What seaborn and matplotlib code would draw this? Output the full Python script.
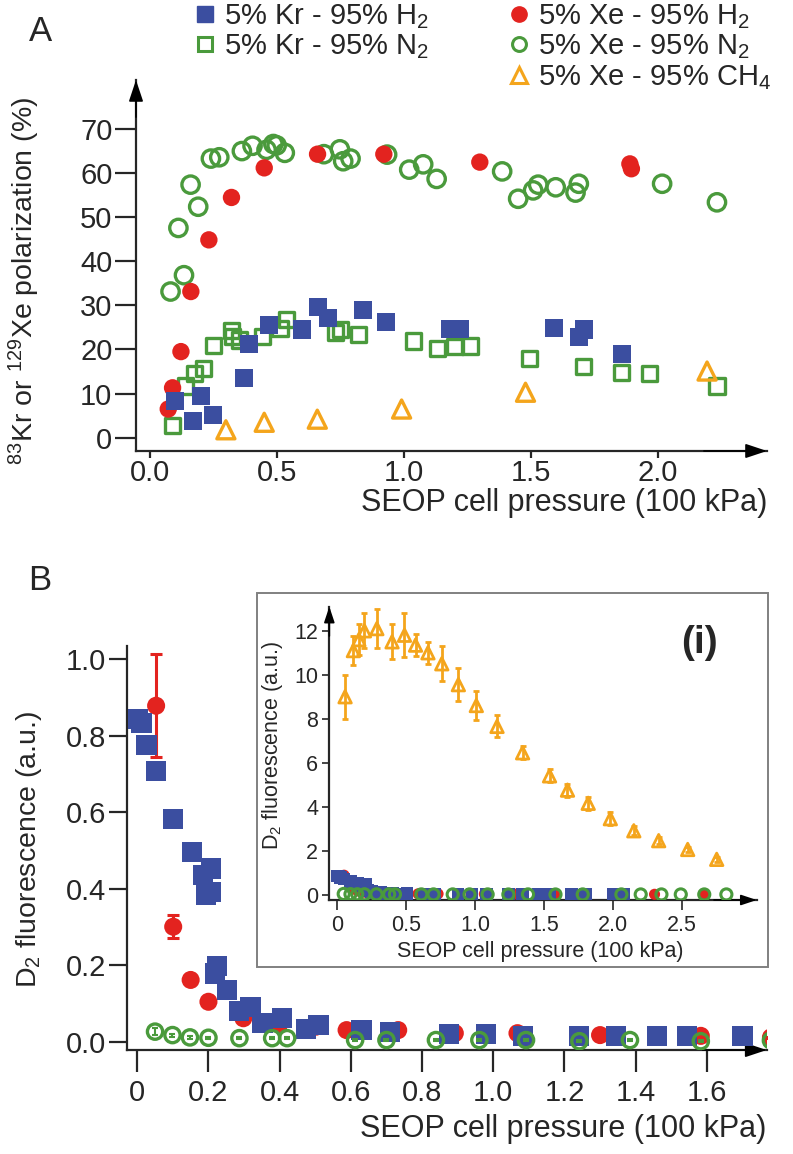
import matplotlib
matplotlib.use("Agg")
import matplotlib.pyplot as plt
from matplotlib.patches import Rectangle
import seaborn as sns
import pandas as pd

# panel A: polarization vs pressure
krh2_p = [0.10, 0.17, 0.20, 0.25, 0.37, 0.39, 0.47, 0.60, 0.66, 0.70, 0.84, 0.93, 1.18, 1.22, 1.59, 1.69, 1.71, 1.86]
krh2_v = [8.3, 3.7, 9.5, 5.2, 13.6, 21.3, 25.5, 24.5, 29.5, 27.2, 28.9, 26.2, 24.7, 24.7, 24.9, 22.9, 24.5, 19.0]

krn2_p = [0.09, 0.14, 0.175, 0.21, 0.25, 0.32, 0.325, 0.354, 0.444, 0.512, 0.538, 0.732, 0.751, 0.82,
          1.039, 1.131, 1.201, 1.26, 1.496, 1.706, 1.857, 1.966, 2.233]
krn2_v = [2.7, 11.7, 14.5, 15.6, 20.9, 24.3, 23.0, 22.1, 22.9, 24.7, 26.7, 23.8, 24.5, 23.4,
          21.9, 20.2, 20.6, 20.8, 17.9, 16.2, 14.8, 14.5, 11.7]

xeh2_p = [0.072, 0.089, 0.122, 0.161, 0.232, 0.321, 0.45, 0.66, 0.921, 1.299, 1.89, 1.896]
xeh2_v = [6.5, 11.3, 19.5, 33.1, 44.8, 54.4, 61.1, 64.2, 64.2, 62.4, 62.0, 60.9]

xen2_p = [0.081, 0.134, 0.112, 0.19, 0.16, 0.24, 0.273, 0.362, 0.404, 0.459, 0.486, 0.499, 0.531, 0.685, 0.748,
          0.761, 0.79, 0.934, 1.021, 1.076, 1.129, 1.387, 1.45, 1.509, 1.529, 1.598, 1.676, 1.689, 2.017, 2.233]
xen2_v = [33.1, 36.8, 47.5, 52.3, 57.3, 63.2, 63.5, 64.9, 66.1, 65.2, 66.5, 66.2, 64.5, 64.2, 65.3,
          62.6, 63.2, 64.1, 60.7, 61.9, 58.6, 60.3, 54.1, 56.0, 57.3, 56.7, 55.5, 57.5, 57.5, 53.3]

xech4_p = [0.299, 0.45, 0.659, 0.991, 1.479, 2.194]
xech4_v = [1.8, 3.5, 4.2, 6.5, 10.3, 15.1]

# panel B: D2 fluorescence vs pressure
b_krh2_p = [0.001, 0.012, 0.026, 0.052, 0.101, 0.153, 0.185, 0.206, 0.193, 0.206, 0.218, 0.225, 0.253, 0.287,
            0.318, 0.352, 0.407, 0.474, 0.509, 0.63, 0.71, 0.876, 0.979, 1.084, 1.242, 1.345, 1.459, 1.543,
            1.70, 1.80, 2.00, 2.08]
b_krh2_v = [0.843, 0.832, 0.775, 0.708, 0.582, 0.497, 0.436, 0.453, 0.384, 0.392, 0.179, 0.199, 0.136, 0.082,
            0.091, 0.050, 0.062, 0.033, 0.044, 0.031, 0.027, 0.020, 0.020, 0.016, 0.016, 0.016, 0.016, 0.016,
            0.015, 0.015, 0.014, 0.014]

b_xeh2_p = [0.053, 0.101, 0.15, 0.2, 0.298, 0.399, 0.502, 0.588, 0.733, 0.892, 1.068, 1.3, 1.583, 1.78, 2.03, 2.30, 2.66]
b_xeh2_v = [0.878, 0.301, 0.162, 0.105, 0.062, 0.047, 0.040, 0.031, 0.031, 0.023, 0.023, 0.018, 0.016, 0.012, 0.012, 0.010, 0.010]
b_xeh2_e = [0.134, 0.03, 0.004, 0.004, 0.003, 0.003, 0.003, 0.002, 0.002, 0.002, 0.002, 0.002, 0.002, 0.002, 0.002, 0.002, 0.002]

b_xen2_p = [0.05, 0.099, 0.148, 0.2, 0.287, 0.379, 0.421, 0.612, 0.7, 0.839, 0.961, 1.092, 1.242, 1.384, 1.583,
            1.78, 2.06, 2.20, 2.35, 2.49, 2.66, 2.82]
b_xen2_v = [0.027, 0.018, 0.012, 0.011, 0.010, 0.010, 0.010, 0.005, 0.005, 0.005, 0.005, 0.005, 0.002, 0.005, 0.002,
            0.004, 0.004, 0.004, 0.004, 0.004, 0.004, 0.004]
b_xen2_e = [0.009, 0.004, 0.003, 0.003, 0.003, 0.003, 0.003, 0.003, 0.003, 0.003, 0.003, 0.003, 0.003, 0.003, 0.003,
            0.003, 0.003, 0.003, 0.003, 0.003, 0.003, 0.003]

# inset: Xe - CH4
ch4_p = [0.06, 0.12, 0.16, 0.20, 0.29, 0.40, 0.49, 0.57, 0.66, 0.76, 0.88, 1.01, 1.16, 1.345, 1.54, 1.67,
         1.82, 1.98, 2.15, 2.33, 2.54, 2.75]
ch4_v = [9.0, 11.1, 11.6, 12.0, 12.1, 11.5, 11.8, 11.35, 11.0, 10.5, 9.55, 8.6, 7.65, 6.45, 5.4, 4.75,
         4.15, 3.45, 2.9, 2.45, 2.05, 1.6]
ch4_e = [1.0, 0.65, 0.7, 0.8, 0.9, 0.8, 1.0, 0.5, 0.5, 0.8, 0.75, 0.65, 0.5, 0.3, 0.3, 0.3,
         0.3, 0.3, 0.2, 0.15, 0.1, 0.1]

BLUE = "#3b4ea0"
RED = "#e3231f"
GREEN = "#4a9a3c"
ORANGE = "#f4a51c"
FS = 21

sns.set_style("ticks")
plt.rcParams["font.family"] = ["Liberation Sans", "DejaVu Sans"]
plt.rcParams["mathtext.fontset"] = "custom"
plt.rcParams["mathtext.rm"] = "Liberation Sans"
plt.rcParams["mathtext.it"] = "Liberation Sans:italic"
plt.rcParams["axes.linewidth"] = 1.6


def scatter(ax, x, y, color, marker, size, filled=True, lw=2.4, z=2):
    df = pd.DataFrame({"x": x, "y": y})
    if filled:
        sns.scatterplot(data=df, x="x", y="y", ax=ax, marker=marker, s=size ** 2, color=color,
                        edgecolor="none", linewidth=0, zorder=z, legend=False)
    else:
        sns.scatterplot(data=df, x="x", y="y", ax=ax, marker=marker, s=size ** 2, facecolor="none",
                        edgecolor=color, linewidth=lw, zorder=z, legend=False)


def errbars(ax, x, y, e, color, lw, cap, z):
    ax.errorbar(x, y, yerr=e, fmt="none", ecolor=color, elinewidth=lw, capsize=cap, capthick=lw, zorder=z)


def arrows(ax, top=True, scale=22):
    style = "-|>,head_length=0.6,head_width=0.2"
    ax.annotate("", xy=(1, 0), xytext=(0.9, 0), xycoords="axes fraction",
                arrowprops=dict(arrowstyle=style, color="k", lw=1.2, mutation_scale=scale,
                                shrinkA=0, shrinkB=0))
    if top:
        ax.annotate("", xy=(0, 1), xytext=(0, 0.9), xycoords="axes fraction",
                    arrowprops=dict(arrowstyle=style, color="k", lw=1.2, mutation_scale=scale,
                                    shrinkA=0, shrinkB=0))


def clean(ax):
    sns.despine(ax=ax)
    ax.set_xlabel("")
    ax.set_ylabel("")


fig = plt.figure(figsize=(7.93, 11.54), dpi=100)

# ---- panel A
axA = fig.add_axes([0.1715, 0.6092, 0.7957, 0.3215])
scatter(axA, krn2_p, krn2_v, GREEN, "s", 11, filled=False, z=2)
scatter(axA, xen2_p, xen2_v, GREEN, "o", 12.5, filled=False, z=3)
scatter(axA, xeh2_p, xeh2_v, RED, "o", 12.5, z=4)
scatter(axA, krh2_p, krh2_v, BLUE, "s", 13, z=5)
scatter(axA, xech4_p, xech4_v, ORANGE, "^", 13, filled=False, z=6)
clean(axA)
axA.set_xlim(-0.055, 2.43)
axA.set_ylim(-3, 81)
axA.set_xticks([0, 0.5, 1.0, 1.5, 2.0])
axA.set_xticklabels(["0.0", "0.5", "1.0", "1.5", "2.0"])
axA.set_yticks(range(0, 71, 10))
axA.tick_params(axis="both", labelsize=FS, width=1.6)
axA.tick_params(axis="y", length=15, pad=2)
axA.tick_params(axis="x", length=5, pad=1)
arrows(axA)
axA.set_xlabel("SEOP cell pressure (100 kPa)", fontsize=22)
axA.xaxis.set_label_coords(1.0, -0.1)
axA.xaxis.label.set_ha("right")
axA.set_ylabel("$^{83}$Kr or $^{129}$Xe polarization (%)", fontsize=20.5)
axA.yaxis.set_label_coords(-0.149, 0.458)

# legend for A
h_krh2 = plt.Line2D([], [], marker="s", color=BLUE, ls="", ms=11)
h_krn2 = plt.Line2D([], [], marker="s", mfc="none", mec=GREEN, mew=2.2, ls="", ms=10)
h_xeh2 = plt.Line2D([], [], marker="o", color=RED, ls="", ms=11)
h_xen2 = plt.Line2D([], [], marker="o", mfc="none", mec=GREEN, mew=2.2, ls="", ms=10)
h_ch4 = plt.Line2D([], [], marker="^", mfc="none", mec=ORANGE, mew=2.2, ls="", ms=12)
leg_kw = dict(frameon=False, fontsize=FS, handlelength=0.7, handletextpad=0.3, borderpad=0,
              borderaxespad=0, labelspacing=0.05, loc="upper left")
leg1 = fig.legend([h_krh2, h_krn2], ["5% Kr - 95% H$_2$", "5% Kr - 95% N$_2$"],
                  bbox_to_anchor=(0.246, 0.998), **leg_kw)
leg2 = fig.legend([h_xeh2, h_xen2, h_ch4], ["5% Xe - 95% H$_2$", "5% Xe - 95% N$_2$", "5% Xe - 95% CH$_4$"],
                  bbox_to_anchor=(0.642, 0.998), **leg_kw)

fig.text(0.036, 0.973, "A", fontsize=25, va="center")
fig.text(0.036, 0.497, "B", fontsize=25, va="center")

# ---- panel B
axB = fig.add_axes([0.1605, 0.0901, 0.8063, 0.3501])
scatter(axB, b_xeh2_p, b_xeh2_v, RED, "o", 13, z=3)
errbars(axB, b_xeh2_p, b_xeh2_v, b_xeh2_e, RED, 2.2, 4, 3.5)
scatter(axB, b_krh2_p, b_krh2_v, BLUE, "s", 14.5, z=4)
scatter(axB, b_xen2_p, b_xen2_v, GREEN, "o", 11, filled=False, lw=2.4, z=5)
errbars(axB, b_xen2_p, b_xen2_v, b_xen2_e, GREEN, 1.5, 2.5, 5.5)
clean(axB)
axB.set_xlim(-0.028, 1.768)
axB.set_ylim(-0.021, 1.034)
axB.set_xticks([0, 0.2, 0.4, 0.6, 0.8, 1.0, 1.2, 1.4, 1.6])
axB.set_xticklabels(["0", "0.2", "0.4", "0.6", "0.8", "1.0", "1.2", "1.4", "1.6"])
axB.set_yticks([0, 0.2, 0.4, 0.6, 0.8, 1.0])
axB.set_yticklabels(["0.0", "0.2", "0.4", "0.6", "0.8", "1.0"])
axB.tick_params(axis="both", labelsize=FS, width=1.6)
axB.tick_params(axis="y", length=13, pad=2)
axB.tick_params(axis="x", length=16, pad=5)
arrows(axB, top=False)
axB.set_xlabel("SEOP cell pressure (100 kPa)", fontsize=22)
axB.xaxis.set_label_coords(1.0, -0.158)
axB.xaxis.label.set_ha("right")
axB.set_ylabel("D$_2$ fluorescence (a.u.)", fontsize=20.5)
axB.yaxis.set_label_coords(-0.13, 0.495)

# inset frame
fig.patches.append(Rectangle((0.3245, 0.1623), 0.6444, 0.3241, transform=fig.transFigure,
                             fill=False, ec="#808080", lw=1.4))

# ---- inset
axI = fig.add_axes([0.4153, 0.2201, 0.539, 0.2542])
axI.patch.set_alpha(0)
scatter(axI, b_xeh2_p, b_xeh2_v, RED, "o", 8, z=3)
scatter(axI, b_krh2_p, b_krh2_v, BLUE, "s", 9, z=4)
scatter(axI, b_xen2_p, b_xen2_v, GREEN, "o", 8, filled=False, lw=2.2, z=5)
errbars(axI, ch4_p, ch4_v, ch4_e, ORANGE, 2.0, 2.5, 6)
scatter(axI, ch4_p, ch4_v, ORANGE, "^", 9, filled=False, lw=2.0, z=7)
clean(axI)
axI.set_xlim(-0.054, 3.04)
axI.set_ylim(-0.25, 13.1)
axI.set_xticks([0, 0.5, 1.0, 1.5, 2.0, 2.5])
axI.set_xticklabels(["0", "0.5", "1.0", "1.5", "2.0", "2.5"])
axI.set_yticks(range(0, 13, 2))
axI.tick_params(axis="both", labelsize=15.5, width=1.2)
axI.tick_params(axis="x", length=7, pad=4)
axI.tick_params(axis="y", length=5, pad=3)
arrows(axI, scale=16)
axI.set_xlabel("SEOP cell pressure (100 kPa)", fontsize=15.5)
axI.xaxis.set_label_coords(0.493, -0.14)
axI.set_ylabel("D$_2$ fluorescence (a.u.)", fontsize=15.5)
axI.yaxis.set_label_coords(-0.104, 0.528)
axI.text(0.867, 0.876, "(i)", transform=axI.transAxes, fontsize=28, fontweight="bold",
         ha="center", va="center")

fig.savefig("out.png", dpi=100)
